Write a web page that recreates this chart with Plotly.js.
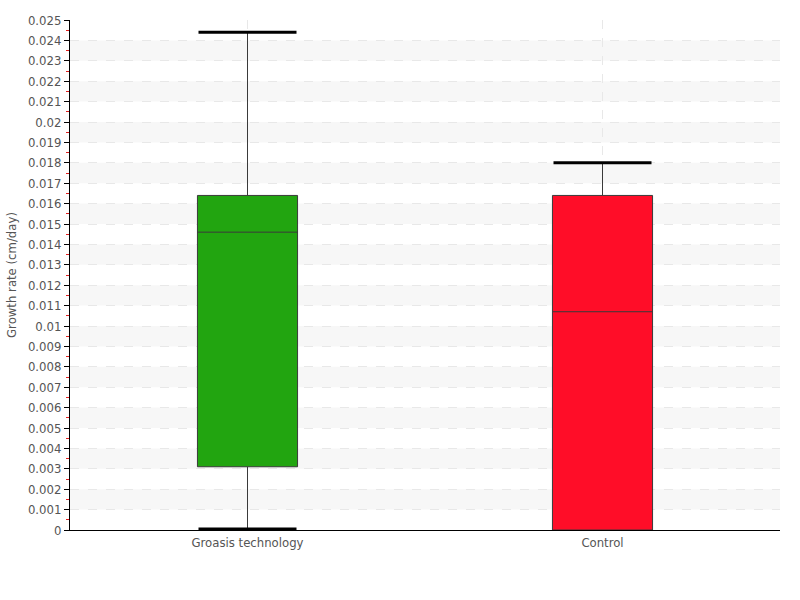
<!DOCTYPE html>
<html>
<head>
<meta charset="utf-8">
<script src="https://cdn.plot.ly/plotly-3.0.1.min.js"></script>
<style>html,body{margin:0;padding:0;background:#fff;}#chart{width:800px;height:600px;}</style>
</head>
<body>
<div id="chart"></div>
<script>
var categories = ['Groasis technology', 'Control'];
var q1 = [0.0031, 0.0];
var medians = [0.0146, 0.0107];
var q3 = [0.0164, 0.0164];
var lowerFences = [0.00005, 0.0];
var upperFences = [0.0244, 0.018];
var boxColors = ['#22a510', '#ff0d28'];
var yTickStep = 0.001;
var yMax = 0.025;

var FONT = '"DejaVu Sans Condensed", "Liberation Sans Narrow", "Open Sans", sans-serif';

var traces = categories.map(function (c, i) {
  return {
    type: 'box',
    name: c,
    x: [c],
    q1: [q1[i]],
    median: [medians[i]],
    q3: [q3[i]],
    lowerfence: [lowerFences[i]],
    upperfence: [upperFences[i]],
    width: 0.282,
    fillcolor: boxColors[i],
    line: {color: '#3a3a3a', width: 1},
    whiskerwidth: 0,
    boxpoints: false,
    hoverinfo: 'skip',
    showlegend: false
  };
});

var capX = [], capY = [];
categories.forEach(function (c, i) {
  capX.push(c); capY.push(upperFences[i]);
  if (lowerFences[i] < q1[i]) { capX.push(c); capY.push(lowerFences[i]); }
});

traces.push({
  type: 'scatter',
  mode: 'markers',
  x: capX,
  y: capY,
  marker: {symbol: 'line-ew', size: 70, color: '#000', line: {color: '#000', width: 3}},
  hoverinfo: 'skip',
  showlegend: false
});

var shapes = [];
for (var k = 1; k < Math.round(yMax / yTickStep); k += 2) {
  shapes.push({
    type: 'rect', xref: 'paper', yref: 'y', layer: 'below',
    x0: 0, x1: 1, y0: k * yTickStep, y1: (k + 1) * yTickStep,
    fillcolor: '#f7f7f7', line: {width: 0}
  });
}

var layout = {
  width: 800, height: 600,
  margin: {l: 70, r: 20, t: 20, b: 70},
  paper_bgcolor: '#fff', plot_bgcolor: '#fff',
  font: {family: FONT, size: 13, color: '#555'},
  boxmode: 'overlay',
  shapes: shapes,
  xaxis: {
    type: 'category',
    range: [-0.5, categories.length - 0.5],
    showline: true, linecolor: '#000', linewidth: 1,
    showgrid: true, gridcolor: '#e8e8e8', griddash: 'dash',
    ticks: '', tickfont: {family: FONT, size: 13, color: '#555'},
    zeroline: false, fixedrange: true
  },
  yaxis: {
    range: [0, yMax],
    dtick: yTickStep, tick0: 0,
    showline: true, linecolor: '#000', linewidth: 1,
    ticks: 'outside', ticklen: 5, tickcolor: '#000', tickwidth: 1,
    showgrid: true, gridcolor: '#e8e8e8', griddash: 'dash',
    minor: {dtick: yTickStep / 2, ticks: 'outside', ticklen: 3, tickcolor: '#e02020', showgrid: false},
    zeroline: false,
    tickfont: {family: FONT, size: 13, color: '#555'},
    title: {text: 'Growth rate (cm/day)', font: {family: FONT, size: 13, color: '#555'}, standoff: 8}
  }
};

Plotly.newPlot('chart', traces, layout, {staticPlot: true, displayModeBar: false});
</script>
</body>
</html>
